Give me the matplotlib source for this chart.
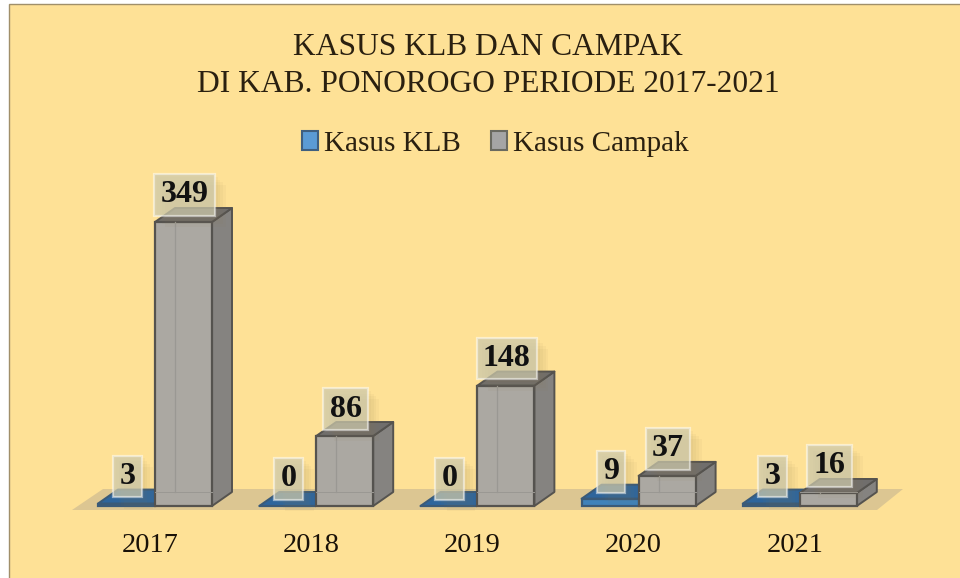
import matplotlib
matplotlib.use("Agg")
import matplotlib.pyplot as plt
from matplotlib.patches import Polygon, Patch, Rectangle
import matplotlib.patheffects as pe

plt.rcParams['font.family'] = ['Liberation Serif', 'DejaVu Serif']

years = ['2017', '2018', '2019', '2020', '2021']
kasus_klb = [3, 0, 0, 9, 3]
kasus_campak = [349, 86, 148, 37, 16]

BG = '#FEE196'
W, H = 960, 578
fig = plt.figure(figsize=(W/100, H/100), dpi=100, facecolor='white')
fig.add_artist(Rectangle((9/W, -0.05), 1.1, 1.05-4/H, transform=fig.transFigure, fc=BG, ec='#A08F6A', lw=1.0, zorder=-5))
ax = fig.add_axes([0, 1-511/H, 1, 511/H], facecolor='none')
PXY = 284/349
PXX = 161.2
ax.set_xlim(-155/PXX, (W-155)/PXX)
ax.set_ylim(-5/PXY, 506/PXY)
for s in ax.spines.values():
    s.set_visible(False)
ax.set_yticks([])

bw = 57/PXX
dx = 20/PXX
dy = 14/PXY

# floor
ax.add_patch(Polygon([(-83/PXX, -4/PXY), (722/PXX, -4/PXY), (748/PXX, 17/PXY), (-52/PXX, 17/PXY)],
                     closed=True, fc='#DCC692', ec='none', zorder=1))

def box(x, v, front, side, top, edge, z):
    ax.bar(x, v, bw, align='edge', color=front, edgecolor=edge, linewidth=1.6, zorder=z+0.2)
    ax.add_patch(Polygon([(x+bw, 0), (x+bw+dx, dy), (x+bw+dx, v+dy), (x+bw, v)], closed=True,
                         fc=side, ec=edge, lw=1.4, zorder=z+0.1, joinstyle='round'))
    ax.add_patch(Polygon([(x, v), (x+dx, v+dy), (x+bw+dx, v+dy), (x+bw, v)], closed=True,
                         fc=top, ec=edge, lw=1.4, zorder=z+0.1, joinstyle='round'))

for i, (a, b) in enumerate(zip(kasus_klb, kasus_campak)):
    box(i-bw, a, '#3F82BA', '#2F6596', '#2E659C', '#3A5A78', 3)
    box(i, b, '#ABA8A2', '#858380', '#706E6C', '#55534F', 4)
    # back edges seen through the translucent front
    ax.plot([i+dx, i+dx], [dy, b], color='#9A9893', lw=0.9, zorder=4.4)
    ax.plot([i, i+bw], [dy, dy], color='#9A9893', lw=0.7, zorder=4.4)

# data labels
shadow = [pe.SimplePatchShadow(offset=(o, -o), shadow_rgbFace='#8a7a50', alpha=0.05) for o in (8, 6, 4, 2)]
def label(x, v):
    t = ax.annotate(str(v), (x, v), xytext=(0.7, 27*0.72), textcoords='offset points',
                    ha='center', va='center', fontsize=23, fontweight='bold', color='#111111', zorder=8,
                    bbox=dict(boxstyle='square,pad=0.2', fc=(0.80, 0.79, 0.68, 0.72),
                              ec=(1, 1, 1, 0.5), lw=1.6))
    t.get_bbox_patch().set_path_effects(shadow + [pe.Normal()])

for i, (a, b) in enumerate(zip(kasus_klb, kasus_campak)):
    label(i - bw/2, a)
    label(i + bw/2, b)

ax.set_xticks([i - 5/PXX for i in range(len(years))])
ax.set_xticklabels(years, fontsize=20.5, color='#1a1208')
ax.tick_params(axis='x', length=0, pad=16)

fig.text(488/W, 1-66/H, 'KASUS KLB DAN CAMPAK\nDI KAB. PONOROGO PERIODE 2017-2021',
         ha='center', va='center', fontsize=22.7, color='#2a2010', linespacing=1.38)

handles = [Patch(fc='#5B9BD5', ec='#3F5F80', lw=1.5, label='Kasus KLB'),
           Patch(fc='#A5A5A5', ec='#6a6a60', lw=1.5, label='Kasus Campak')]
fig.legend(handles=handles, loc='center', bbox_to_anchor=(495/W, 1-144/H), ncol=2, frameon=False,
           fontsize=21, labelcolor='#2a2010', handlelength=0.55, handleheight=0.6,
           handletextpad=0.2, columnspacing=1.05, borderpad=0, borderaxespad=0)

fig.savefig('out.png', dpi=100)
